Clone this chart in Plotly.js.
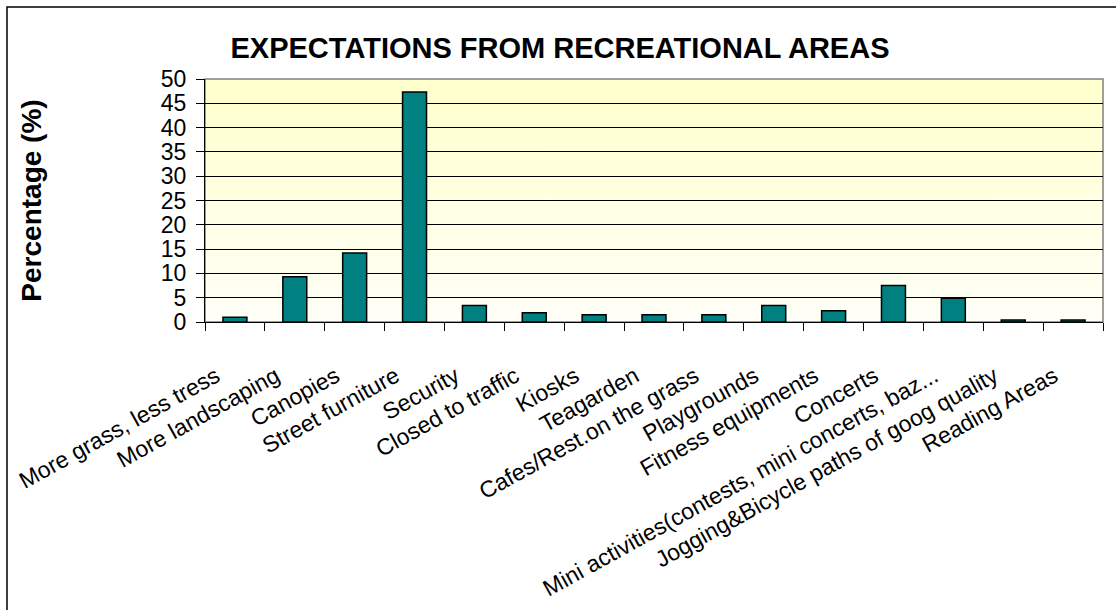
<!DOCTYPE html>
<html>
<head>
<meta charset="utf-8">
<script src="https://cdn.plot.ly/plotly-3.0.1.min.js"></script>
<style>html,body{margin:0;padding:0;background:#fff;}#chart{width:1116px;height:610px;}</style>
</head>
<body>
<div id="chart"></div>
<script>
const categories = [
  "More grass, less tress",
  "More landscaping",
  "Canopies",
  "Street furniture",
  "Security",
  "Closed to traffic",
  "Kiosks",
  "Teagarden",
  "Cafes/Rest.on the grass",
  "Playgrounds",
  "Fitness equipments",
  "Concerts",
  "Mini activities(contests, mini concerts, baz...",
  "Jogging&Bicycle paths of goog quality",
  "Reading Areas"
];
const percentages = [1.0, 9.3, 14.2, 47.3, 3.4, 1.9, 1.5, 1.5, 1.5, 3.4, 2.3, 7.5, 4.9, 0.4, 0.4];
const yTicks = [0, 5, 10, 15, 20, 25, 30, 35, 40, 45, 50];

// vertical gradient for plot background
const cv = document.createElement('canvas');
cv.width = 4; cv.height = 256;
const cx = cv.getContext('2d');
const g = cx.createLinearGradient(0, 0, 0, 256);
g.addColorStop(0, '#FFFFCC');
g.addColorStop(1, '#FFFFF8');
cx.fillStyle = g; cx.fillRect(0, 0, 4, 256);
const grad = cv.toDataURL('image/png');

const FONT = 'Liberation Sans, Arial, sans-serif';

const trace = {
  type: 'bar',
  x: categories,
  y: percentages,
  marker: {color: '#008080', line: {color: '#000000', width: 1.5}},
  hoverinfo: 'x+y'
};

const L = 205, R = 1103, T = 79, B = 322;
const pw = R - L, ph = B - T;

const layout = {
  width: 1116, height: 610,
  margin: {l: L, r: 1116 - R, t: T, b: 610 - B, pad: 0},
  paper_bgcolor: '#ffffff',
  plot_bgcolor: '#ffffff',
  bargap: 0.6,
  showlegend: false,
  title: {
    text: '<b>EXPECTATIONS FROM RECREATIONAL AREAS</b>',
    font: {family: FONT, size: 29, color: '#000'},
    x: 560 / 1116, xanchor: 'center', xref: 'container',
    y: 1 - 48 / 610, yanchor: 'middle', yref: 'container'
  },
  xaxis: {
    type: 'category',
    tickson: 'boundaries',
    ticks: 'outside', ticklen: 8, tickcolor: '#000', tickwidth: 1,
    showline: true, linecolor: '#000', linewidth: 1,
    showgrid: false,
    tickangle: -29,
    tickfont: {family: FONT, size: 23, color: '#000'},
    ticklabelshift: -19,
    ticklabelstandoff: 31,
    automargin: false
  },
  yaxis: {
    range: [0, 50],
    tickvals: yTicks,
    ticktext: yTicks.map(String),
    ticks: 'outside', ticklen: 8, tickcolor: '#000', tickwidth: 1,
    showline: true, linecolor: '#000', linewidth: 1,
    showgrid: true, gridcolor: '#000', gridwidth: 1,
    zeroline: false,
    tickfont: {family: FONT, size: 23, color: '#000'},
    ticklabelstandoff: 5,
    title: {text: '<b>Percentage (%)</b>', font: {family: FONT, size: 28, color: '#000'}, standoff: 111},
    automargin: false
  },
  images: [{
    source: grad, xref: 'paper', yref: 'paper', x: 0, y: 1, sizex: 1, sizey: 1,
    xanchor: 'left', yanchor: 'top', sizing: 'stretch', layer: 'below'
  }],
  shapes: [
    {type: 'rect', xref: 'paper', yref: 'paper', x0: 0, x1: 1, y0: 0, y1: 1,
     line: {color: '#808080', width: 1.5}, layer: 'between'},
    {type: 'rect', xref: 'paper', yref: 'paper',
     x0: (7 - L) / pw, x1: (1125 - L) / pw, y0: (B - 7) / ph, y1: (B - 625) / ph,
     line: {color: '#000', width: 1.5}, fillcolor: 'rgba(0,0,0,0)', layer: 'above'}
  ]
};

Plotly.newPlot('chart', [trace], layout, {displayModeBar: false, staticPlot: true});
</script>
</body>
</html>
